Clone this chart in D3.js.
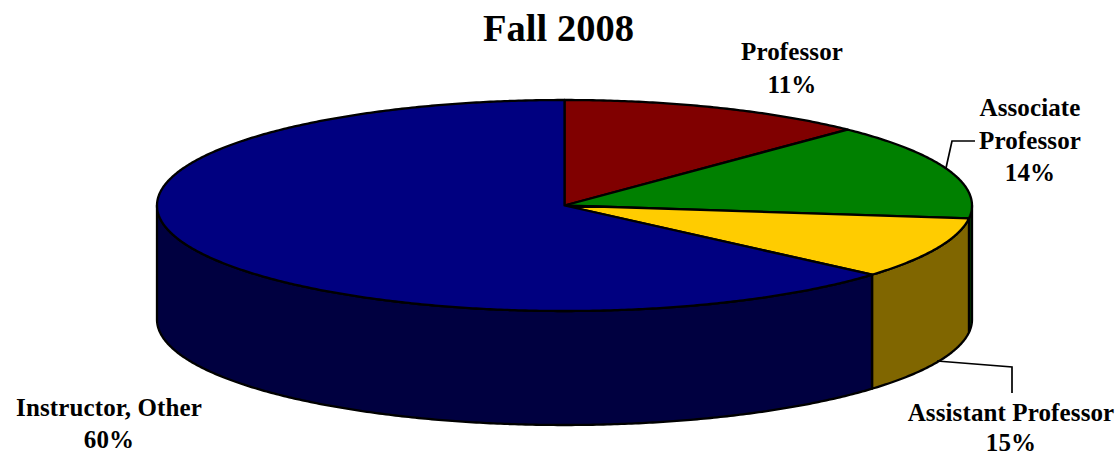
<!DOCTYPE html>
<html><head><meta charset="utf-8">
<script src="https://cdn.jsdelivr.net/npm/d3@7"></script>
<style>html,body{margin:0;padding:0;background:#fff}svg{display:block}
text{font-family:"Liberation Serif",serif;font-weight:bold;fill:#000}</style></head>
<body><svg id="c" width="1119" height="456"></svg>
<script>
const categories = ["Professor","Associate Professor","Assistant Professor","Instructor, Other"];
const values = [11,14,15,60];
const topColors = ["#800000","#008000","#FFCC00","#000080"];
const sideColors = ["#400000","#004000","#806600","#000040"];
const labelLines = [["Professor"],["Associate","Professor"],["Assistant Professor"],["Instructor, Other"]];
const labelAnchors = [[792,60],[1030,116],[1011,421],[109,416]];
const labelLineGaps = [33,32.5,29.5,31.5];
// The reference's 3-D projection does not show slices in exact proportion:
// screen angle (degrees from 12 o'clock) at each cumulative share boundary.
const projectedAngles = [0,44,97,131,360];
const leaders = [null,[[946,168],[952,141],[975,141]],[[937,361],[1012,367],[1012,393]],null];

const svg = d3.select("#c");
const cum = [0, ...d3.cumsum(values)];
const angle = d3.scaleLinear().domain(cum).range(projectedAngles);
const cx = 564.5, cy = 205.5, rx = 407.5, ry = 105.5, depth = 114;
const X = d3.scaleLinear().domain([-1,1]).range([cx-rx,cx+rx]);
const Y = d3.scaleLinear().domain([-1,1]).range([cy+ry,cy-ry]);
const rad = d => d*Math.PI/180;
const px = a => [X(Math.sin(rad(a))), Y(Math.cos(rad(a)))];
const arcPts = (a0,a1) => { const n = Math.max(2,Math.ceil(Math.abs(a1-a0))*2);
  return d3.range(n+1).map(i => px(a0+(a1-a0)*i/n)); };
const line = d3.line();

const slices = values.map((v,i)=>({i,a0:angle(cum[i]),a1:angle(cum[i+1])}));

// side wall: only the part of the rim facing the viewer (90deg..270deg)
svg.append("g").selectAll("path").data(slices.filter(s=>s.a1>90&&s.a0<270)).join("path")
  .attr("d",s=>{ const p=arcPts(Math.max(s.a0,90),Math.min(s.a1,270));
    const low=p.slice().reverse().map(([x,y])=>[x,y+depth]);
    return line(p.concat(low))+"Z"; })
  .attr("fill",s=>sideColors[s.i]).attr("stroke","#000").attr("stroke-width",2.3).attr("stroke-linejoin","round");

// top face
svg.append("g").selectAll("path").data(slices).join("path")
  .attr("d",s=>line([[cx,cy],...arcPts(s.a0,s.a1)])+"Z")
  .attr("fill",s=>topColors[s.i]).attr("stroke","#000").attr("stroke-width",2.3).attr("stroke-linejoin","round");

// leader lines
svg.append("g").selectAll("path").data(leaders.filter(Boolean)).join("path")
  .attr("d",d=>line(d)).attr("fill","none").attr("stroke","#000").attr("stroke-width",1.7);

// title
svg.append("text").attr("x",558.5).attr("y",41).attr("text-anchor","middle").attr("font-size",38.5).text("Fall 2008");

// labels
const lab = svg.append("g").selectAll("text").data(categories).join("text")
  .attr("text-anchor","middle").attr("font-size",25).attr("letter-spacing",0.12);
lab.each(function(c,i){
  const t=d3.select(this), [x,y]=labelAnchors[i];
  [...labelLines[i], values[i]+"%"].forEach((s,k)=>
    t.append("tspan").attr("x",x).attr("y",y+k*labelLineGaps[i]).text(s));
});
</script></body></html>
